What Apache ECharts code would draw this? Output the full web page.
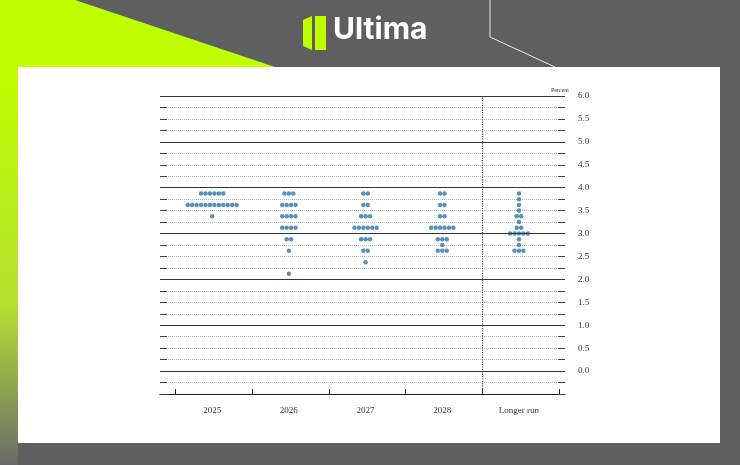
<!DOCTYPE html>
<html><head><meta charset="utf-8">
<script src="https://cdn.jsdelivr.net/npm/echarts@6/dist/echarts.min.js"></script>
<style>html,body{margin:0;padding:0;background:#5f5f5f}#c{width:740px;height:465px}</style>
</head><body><div id="c"></div>
<script>
const categories = ['2025', '2026', '2027', '2028', 'Longer run']
// rate levels and number of participants at each level, per category
const rates2025 = [3.875, 3.625, 3.375]
const counts2025 = [6, 12, 1]
const rates2026 = [3.875, 3.625, 3.375, 3.125, 2.875, 2.625, 2.125]
const counts2026 = [3, 4, 4, 4, 2, 1, 1]
const rates2027 = [3.875, 3.625, 3.375, 3.125, 2.875, 2.625, 2.375]
const counts2027 = [2, 2, 3, 6, 3, 2, 1]
const rates2028 = [3.875, 3.625, 3.375, 3.125, 2.875, 2.75, 2.625]
const counts2028 = [2, 2, 2, 6, 3, 1, 3]
const ratesLR = [3.875, 3.75, 3.625, 3.5, 3.375, 3.25, 3.125, 3.0, 2.875, 2.75, 2.625]
const countsLR = [1, 1, 1, 1, 2, 1, 2, 5, 1, 1, 3]

const groups = [[rates2025, counts2025], [rates2026, counts2026], [rates2027, counts2027], [rates2028, counts2028], [ratesLR, countsLR]]
const dots = []
groups.forEach(([rates, counts], gi) => {
  rates.forEach((r, k) => {
    const n = counts[k]
    for (let i = 0; i < n; i++) dots.push([gi + 1 + (i - (n - 1) / 2) * 0.058, r])
  })
})

const chart = echarts.init(document.getElementById('c'))
const lime = '#bfff00'
const solidLines = [0, 1, 2, 3, 4, 5, 6].map(v => ({ yAxis: v }))
chart.setOption({
  animation: false,
  backgroundColor: '#5f5f5f',
  graphic: [
    { type: 'polygon', z: -10, shape: { points: [[0, 0], [75, 0], [275, 67], [0, 67]] }, style: { fill: lime } },
    { type: 'rect', z: -10, shape: { x: 0, y: 67, width: 18, height: 398 },
      style: { fill: new echarts.graphic.LinearGradient(0, 0, 0, 1, [{ offset: 0, color: lime }, { offset: 0.6, color: '#b5e030' }, { offset: 1, color: '#6a6a6a' }]) } },
    { type: 'polyline', z: -9, shape: { points: [[490, 0], [490, 37], [555, 67]] }, style: { stroke: '#e8e8e8', lineWidth: 1, fill: null } },
    { type: 'rect', z: -8, shape: { x: 18, y: 67, width: 702, height: 376 }, style: { fill: '#ffffff' } },
    { type: 'polygon', z: -7, shape: { points: [[303, 20], [312, 16], [312, 50], [303, 46]] }, style: { fill: lime } },
    { type: 'rect', z: -7, shape: { x: 315, y: 16, width: 11, height: 34 }, style: { fill: lime } },
    { type: 'text', z: -7, left: 333, top: 15, style: { text: 'Ultima', fill: '#ffffff', font: 'bold 30px Inter, "Open Sans", sans-serif' } },
    { type: 'text', left: 551, top: 87, style: { text: 'Percent', fill: '#333', font: '6px "Liberation Serif", serif' } }
  ],
  grid: { left: 160, right: 175, top: 96, bottom: 71 },
  xAxis: {
    type: 'value', min: 0.32, max: 5.6,
    axisLine: { show: true, onZero: false, lineStyle: { color: '#222', width: 1.2 } },
    axisTick: { show: true, inside: true, length: 5, customValues: [0.52, 1.52, 2.52, 3.52, 4.52, 5.52], lineStyle: { color: '#222' } },
    axisLabel: { customValues: [1, 2, 3, 4, 5], formatter: v => categories[Math.round(v) - 1], color: '#333', fontFamily: 'Liberation Serif', fontSize: 9, margin: 12 },
    splitLine: { show: false }
  },
  yAxis: [
    {
      type: 'value', min: -0.5, max: 6, interval: 0.25, position: 'right',
      axisLine: { show: false },
      axisTick: { show: true, length: 7, inside: true, lineStyle: { color: '#444' } },
      axisLabel: { margin: 13, color: '#333', fontFamily: 'Liberation Serif', fontSize: 9,
        formatter: v => (v >= 0 && Math.abs(v * 2 - Math.round(v * 2)) < 1e-6) ? v.toFixed(1) : '' },
      splitLine: { show: true, lineStyle: { color: '#bbb', type: 'dotted', width: 1 } }
    },
    {
      type: 'value', min: -0.5, max: 6, interval: 0.25, position: 'left',
      axisLine: { show: false }, axisLabel: { show: false }, splitLine: { show: false },
      axisTick: { show: true, length: 7, inside: true, lineStyle: { color: '#444' } }
    }
  ],
  series: [{
    type: 'scatter', data: dots, symbolSize: 4.5,
    itemStyle: { color: '#2f74ad' },
    markLine: {
      silent: true, symbol: 'none', label: { show: false },
      lineStyle: { color: '#333', type: 'solid', width: 1.2 },
      data: solidLines.concat([{ xAxis: 4.52, lineStyle: { type: 'dotted', color: '#444', width: 1.2 } }])
    }
  }]
})
</script></body></html>
